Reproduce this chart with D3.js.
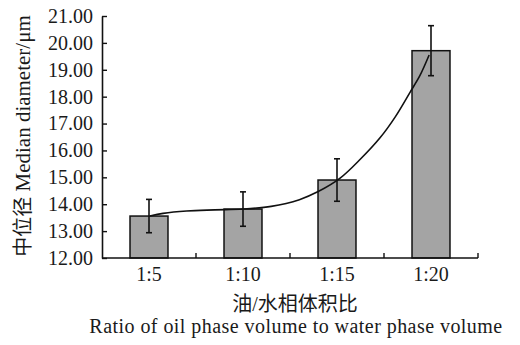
<!DOCTYPE html>
<html>
<head>
<meta charset="utf-8">
<script src="https://cdn.jsdelivr.net/npm/d3@7"></script>
<style>
  html, body { margin: 0; padding: 0; background: #fff; }
  svg { display: block; }
  text { font-family: "Liberation Serif", "Noto Sans CJK SC", serif; fill: #1a1a1a; }
</style>
</head>
<body>
<svg id="chart"></svg>
<script>
// 数据
const categories = ["1:5", "1:10", "1:15", "1:20"];
const medianValues = [13.56, 13.82, 14.90, 19.71];
const errorValues = [0.62, 0.64, 0.79, 0.93];
const yTickValues = [12, 13, 14, 15, 16, 17, 18, 19, 20, 21];
// 趋势线（按图读取，x 为类别序号位置）
const trendPos = [0.01, 0.15, 0.40, 0.70, 1.00, 1.30, 1.60, 1.80, 2.03, 2.25, 2.46, 2.62, 2.78, 2.88, 2.98];
const trendVal = [13.56, 13.66, 13.75, 13.79, 13.82, 13.92, 14.17, 14.47, 14.96, 15.68, 16.48, 17.25, 18.18, 18.77, 19.55];

const width = 520, height = 345;
const plotLeft = 102, plotRight = 478, plotTop = 16, plotBottom = 258;

const svg = d3.select("#chart").attr("width", width).attr("height", height);

const x = d3.scaleBand()
    .domain(categories)
    .range([plotLeft, plotRight])
    .paddingInner(0.596)
    .paddingOuter(0.298);

const y = d3.scaleLinear().domain([12, 21]).range([plotBottom, plotTop]);

const xPos = d3.scaleLinear()
    .domain([0, categories.length - 1])
    .range([x(categories[0]) + x.bandwidth() / 2, x(categories[categories.length - 1]) + x.bandwidth() / 2]);

// 柱
svg.append("g").selectAll("rect")
    .data(medianValues)
    .join("rect")
    .attr("x", (d, i) => x(categories[i]))
    .attr("y", d => y(d))
    .attr("width", x.bandwidth())
    .attr("height", d => y(12) - y(d))
    .attr("fill", "#a4a4a4")
    .attr("stroke", "#111")
    .attr("stroke-width", 1.5);

// 误差线
const err = svg.append("g").attr("stroke", "#111").attr("stroke-width", 1.6);
medianValues.forEach((d, i) => {
    const cx = x(categories[i]) + x.bandwidth() / 2;
    const y1 = y(d + errorValues[i]), y2 = y(d - errorValues[i]);
    err.append("line").attr("x1", cx).attr("x2", cx).attr("y1", y1).attr("y2", y2);
    err.append("line").attr("x1", cx - 3).attr("x2", cx + 3).attr("y1", y1).attr("y2", y1);
    err.append("line").attr("x1", cx - 3).attr("x2", cx + 3).attr("y1", y2).attr("y2", y2);
});

// 趋势线
const line = d3.line()
    .x((d, i) => xPos(trendPos[i]))
    .y(d => y(d))
    .curve(d3.curveCatmullRom.alpha(0.5));

svg.append("path")
    .datum(trendVal)
    .attr("d", line)
    .attr("fill", "none")
    .attr("stroke", "#111")
    .attr("stroke-width", 1.6);

// Y 轴
const yAxis = svg.append("g")
    .attr("transform", `translate(${plotLeft},0)`)
    .call(d3.axisLeft(y)
        .tickValues(yTickValues)
        .tickFormat(d3.format(".2f"))
        .tickSizeInner(-5)
        .tickSizeOuter(0)
        .tickPadding(9));
yAxis.select(".domain").attr("stroke", "#111").attr("stroke-width", 1.6);
yAxis.selectAll(".tick line").attr("stroke", "#111").attr("stroke-width", 1.4);
yAxis.selectAll("text").attr("font-size", 20).attr("fill", "#1a1a1a");

// X 轴
const xAxis = svg.append("g")
    .attr("transform", `translate(0,${plotBottom})`)
    .call(d3.axisBottom(x).tickSize(0).tickPadding(9));
xAxis.select(".domain").attr("stroke", "#111").attr("stroke-width", 1.6)
    .attr("d", `M${plotLeft},0H${plotRight}`);
xAxis.selectAll("text").attr("font-size", 20).attr("fill", "#1a1a1a");

// 类别分隔刻度（向上）
xAxis.append("g").selectAll("line")
    .data(categories)
    .join("line")
    .attr("x1", d => x(d) + x.bandwidth() / 2 + x.step() / 2)
    .attr("x2", d => x(d) + x.bandwidth() / 2 + x.step() / 2)
    .attr("y1", 0)
    .attr("y2", -5)
    .attr("stroke", "#111")
    .attr("stroke-width", 1.4);

// 轴标题
svg.append("text")
    .attr("x", 295)
    .attr("y", 310.5)
    .attr("text-anchor", "middle")
    .attr("font-size", 20)
    .text("油/水相体积比");

svg.append("text")
    .attr("x", 296)
    .attr("y", 333)
    .attr("text-anchor", "middle")
    .attr("font-size", 20)
    .attr("letter-spacing", 0.45)
    .text("Ratio of oil phase volume to water phase volume");

const yTitle = svg.append("text")
    .attr("transform", "translate(30,136) rotate(-90)")
    .attr("text-anchor", "middle")
    .attr("font-size", 21);
yTitle.append("tspan")
    .style("font-family", "'Noto Sans CJK SC', sans-serif")
    .attr("font-size", 20)
    .text("中位径");
yTitle.append("tspan").text(" Median diameter/μm");
</script>
</body>
</html>
